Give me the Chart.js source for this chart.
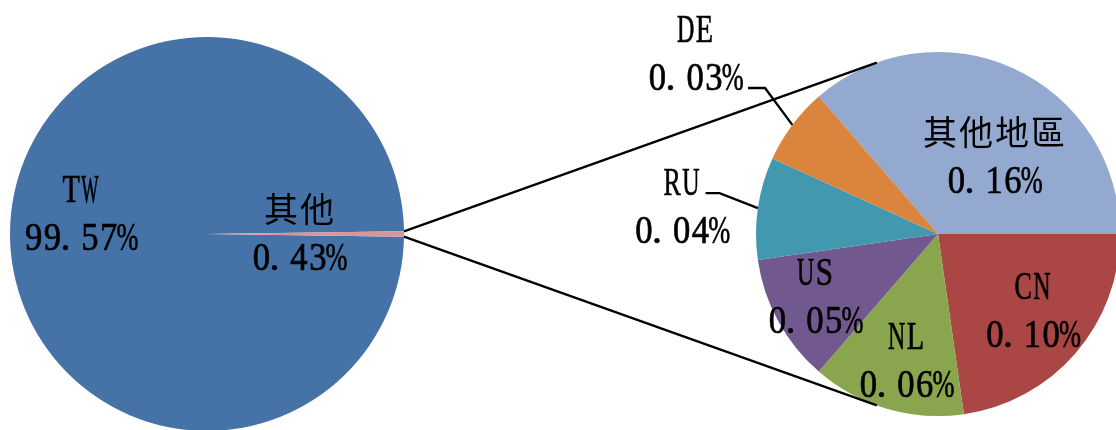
<!DOCTYPE html>
<html>
<head>
<meta charset="utf-8">
<script src="https://cdn.jsdelivr.net/npm/chart.js@4"></script>
<style>
  html, body { margin: 0; padding: 0; background: #fff; overflow: hidden; }
  #wrap { position: relative; width: 1116px; height: 430px; overflow: hidden; }
  #wrap canvas { position: absolute; left: 0; top: 0; }
</style>
</head>
<body>
<div id="wrap">
  <canvas id="mainPie" width="1130" height="440"></canvas>
  <canvas id="subPie" width="1130" height="440"></canvas>
</div>
<script>
// main pie
const mainLabels = ["TW", "其他"];
const mainValues = [99.57, 0.43];
const mainColors = ["#4572A7", "#D99694"];

// breakdown of "其他"
const subLabels = ["其他地區", "CN", "NL", "US", "RU", "DE"];
const subValues = [0.16, 0.10, 0.06, 0.05, 0.04, 0.03];
const subColors = ["#93A9CF", "#AA4643", "#89A54E", "#71588F", "#4198AF", "#DB843D"];

// label spots, in pie radii from the centre
const mainLabelPos = [[-0.642, -0.114], [0.467, -0.01]];
const subLabelPos = [[0.308, -0.434], [0.519, 0.412], [-0.176, 0.687], [-0.676, 0.335], [-1.409, -0.159], [-1.335, -1.0]];
// leader lines for the labels sitting outside the pie
const subLeaders = [null, null, null, null, { x: 24, y: -12, len: 14 }, { x: 53, y: 36, len: 17 }];

const LATIN_FONT = '40px "Liberation Serif"';
const CJK_FONT = '34px "Noto Sans CJK TC"';

// fixed cells like a Ming font: half width for latin, full for CJK
function cellOf(ch) {
  return ch.charCodeAt(0) > 0x2e80 ? 36 : 18.8;
}

function drawCellText(ctx, text, cx, baseline) {
  const chars = Array.from(text);
  const total = chars.reduce((s, c) => s + cellOf(c), 0);
  let x = cx - total / 2;
  chars.forEach((ch) => {
    const cell = cellOf(ch);
    const cjk = cell > 20;
    ctx.font = cjk ? CJK_FONT : LATIN_FONT;
    const w = ctx.measureText(ch).width;
    const fit = cjk ? 1.02 : ch === "%" ? 1.17 : 0.92;
    const sx = Math.min(1, (cell * fit) / w);
    const gx = ch === "." ? x + cell * 0.2 : x + cell / 2;
    ctx.save();
    ctx.translate(gx, baseline);
    ctx.scale(sx, 1);
    ctx.textAlign = "center";
    ctx.textBaseline = "alphabetic";
    ctx.fillText(ch, 0, 0);
    if (!cjk) {
      // a touch heavier, like the original
      ctx.lineWidth = 0.7;
      ctx.strokeStyle = ctx.fillStyle;
      ctx.strokeText(ch, 0, 0);
    }
    ctx.restore();
    x += cell;
  });
  return total;
}

const pieLabels = {
  id: "pieLabels",
  afterDatasetsDraw(chart, args, opts) {
    const ctx = chart.ctx;
    const ds = chart.data.datasets[0];
    chart.getDatasetMeta(0).data.forEach((arc, i) => {
      const R = arc.outerRadius;
      const cx = arc.x + opts.pos[i][0] * R;
      const cy = arc.y + opts.pos[i][1] * R;
      ctx.save();
      ctx.fillStyle = "#000";
      drawCellText(ctx, chart.data.labels[i], cx, cy - 10);
      drawCellText(ctx, ds.data[i].toFixed(2) + "%", cx, cy + 38);
      const ld = opts.leaders && opts.leaders[i];
      if (ld) {
        const mid = (arc.startAngle + arc.endAngle) / 2;
        ctx.beginPath();
        ctx.moveTo(cx + ld.x, cy + ld.y);
        ctx.lineTo(cx + ld.x + ld.len, cy + ld.y);
        ctx.lineTo(arc.x + Math.cos(mid) * R, arc.y + Math.sin(mid) * R);
        ctx.strokeStyle = "#000";
        ctx.lineWidth = 2.3;
        ctx.stroke();
      }
      ctx.restore();
    });
  },
};

const mainChart = new Chart(document.getElementById("mainPie"), {
  type: "pie",
  data: {
    labels: mainLabels,
    datasets: [{ data: mainValues, backgroundColor: mainColors, borderWidth: 0, hoverOffset: 0, offset: 0 }],
  },
  options: {
    responsive: false,
    animation: false,
    events: [],
    // slice "其他" centred on 3 o'clock
    rotation: 90 + (mainValues[1] / (mainValues[0] + mainValues[1])) * 180,
    layout: { padding: { left: 10, right: 726, top: 37, bottom: 9 } },
    plugins: {
      legend: { display: false },
      tooltip: { enabled: false },
      pieLabels: { pos: mainLabelPos },
    },
  },
  plugins: [pieLabels],
});

// lines from the small slice, tangent to the second pie
const connector = {
  id: "connector",
  afterDraw(chart) {
    const src = mainChart.getDatasetMeta(0).data[1];
    const dst = chart.getDatasetMeta(0).data[0];
    const R = dst.outerRadius;
    const ctx = chart.ctx;
    ctx.save();
    ctx.strokeStyle = "#000";
    ctx.lineWidth = 2.3;
    [src.startAngle, src.endAngle].forEach((a, k) => {
      const px = src.x + Math.cos(a) * src.outerRadius;
      const py = src.y + Math.sin(a) * src.outerRadius;
      const base = Math.atan2(py - dst.y, px - dst.x);
      const t = Math.acos(R / Math.hypot(px - dst.x, py - dst.y));
      const ang = k === 0 ? base + t : base - t;
      ctx.beginPath();
      ctx.moveTo(px, py);
      ctx.lineTo(dst.x + Math.cos(ang) * R, dst.y + Math.sin(ang) * R);
      ctx.stroke();
    });
    ctx.restore();
  },
};

const subTotal = subValues.reduce((s, v) => s + v, 0);

new Chart(document.getElementById("subPie"), {
  type: "pie",
  data: {
    labels: subLabels,
    datasets: [{ data: subValues, backgroundColor: subColors, borderWidth: 0, hoverOffset: 0, offset: 0 }],
  },
  options: {
    responsive: false,
    animation: false,
    events: [],
    // first slice ends at 3 o'clock
    rotation: 90 - (subValues[0] / subTotal) * 360,
    layout: { padding: { left: 756, right: 10, top: 52, bottom: 24 } },
    plugins: {
      legend: { display: false },
      tooltip: { enabled: false },
      pieLabels: { pos: subLabelPos, leaders: subLeaders },
    },
  },
  plugins: [pieLabels, connector],
});
</script>
</body>
</html>
